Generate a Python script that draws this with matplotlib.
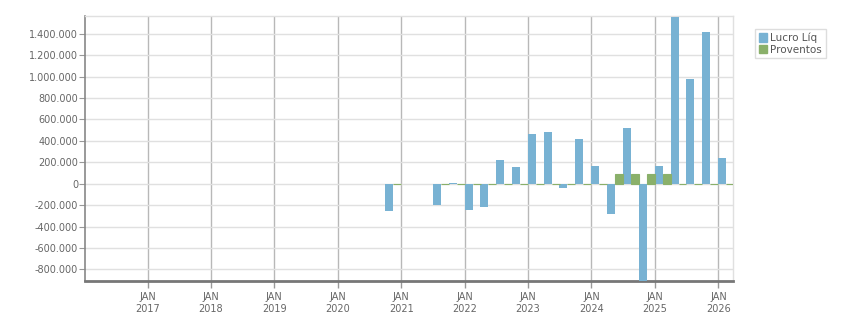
"""Lucro Liq x Proventos quarterly bar chart."""

import datetime as dt

import matplotlib
matplotlib.use("Agg")
import matplotlib.pyplot as plt
import matplotlib.dates as mdates
from matplotlib.ticker import FuncFormatter, MultipleLocator

# quarter start dates (Q1/Q2 2021 have no data)
quarters = [
    "2020-10-01", "2021-07-01", "2021-10-01",
    "2022-01-01", "2022-04-01", "2022-07-01", "2022-10-01",
    "2023-01-01", "2023-04-01", "2023-07-01", "2023-10-01",
    "2024-01-01", "2024-04-01", "2024-07-01", "2024-10-01",
    "2025-01-01", "2025-04-01", "2025-07-01", "2025-10-01",
    "2026-01-01",
]
lucro_liq = [
    -255000, -199000, 10000,
    -245000, -217000, 221000, 156000,
    464000, 483000, -40000, 417000,
    165000, -280000, 520000, -960000,
    165000, 1560000, 977000, 1416000,
    240000,
]
proventos = [
    0, 0, 0,
    0, 0, 0, 0,
    0, 0, 0, 0,
    0, 90000, 90000, 90000,
    90000, 0, 0, 0,
    0,
]
years = list(range(2017, 2027))

BLUE = "#78b2d3"
GREEN = "#8ab06a"
TXT = "#666666"

x = mdates.date2num([dt.datetime.fromisoformat(q) for q in quarters])
w = 45.6  # half a quarter, in days

fig = plt.figure(figsize=(8.51, 3.13), dpi=100)
ax = fig.add_axes([85 / 851, 1 - 281 / 313, (733 - 85) / 851, (281 - 16) / 313])

ax.bar(x, lucro_liq, width=w, align="edge", color=BLUE, linewidth=0, zorder=3)
ax.bar(x + w, proventos, width=w, align="edge", color=GREEN,
       edgecolor=GREEN, linewidth=0.8, zorder=3)

ax.set_xlim(mdates.date2num(dt.datetime(2016, 1, 7)),
            mdates.date2num(dt.datetime(2026, 3, 26)))
ax.set_ylim(-908000, 1565000)

ax.set_xticks(mdates.date2num([dt.datetime(y, 1, 1) for y in years]))
ax.set_xticklabels([f"JAN\n{y}" for y in years])
ax.yaxis.set_major_locator(MultipleLocator(200000))
ax.yaxis.set_major_formatter(FuncFormatter(lambda v, p: f"{v:,.0f}".replace(",", ".")))

ax.grid(axis="y", color="#e0e0e0", linewidth=1, zorder=0)
ax.grid(axis="x", color="#b8b8b8", linewidth=1, zorder=1)
ax.set_axisbelow(True)

for side in ("top", "right"):
    ax.spines[side].set_color("#e0e0e0")
    ax.spines[side].set_linewidth(1)
ax.spines["left"].set_color("#888888")
ax.spines["left"].set_linewidth(1.2)
ax.spines["bottom"].set_color("#777777")
ax.spines["bottom"].set_linewidth(2)

ax.tick_params(axis="y", colors="#999999", labelcolor=TXT, labelsize=7,
               length=4, width=0.8, pad=1)
ax.tick_params(axis="x", colors="#999999", labelcolor=TXT, labelsize=7,
               length=5, width=1, pad=3)
for lbl in ax.get_xticklabels():
    lbl.set_linespacing(1.25)

handles = [plt.Rectangle((0, 0), 1, 1, color=BLUE),
           plt.Rectangle((0, 0), 1, 1, color=GREEN)]
leg = fig.legend(handles, ["Lucro Líq", "Proventos"],
                 loc="upper left", bbox_to_anchor=(755 / 851, 1 - 29 / 313),
                 fontsize=7.5, frameon=True, fancybox=False, framealpha=1,
                 edgecolor="#dddddd", handlelength=0.8, handleheight=0.9,
                 handletextpad=0.3, borderpad=0.35, labelspacing=0.15,
                 borderaxespad=0)
leg.get_frame().set_linewidth(1)
for t in leg.get_texts():
    t.set_color("#555555")

fig.savefig("out.png", dpi=100)
